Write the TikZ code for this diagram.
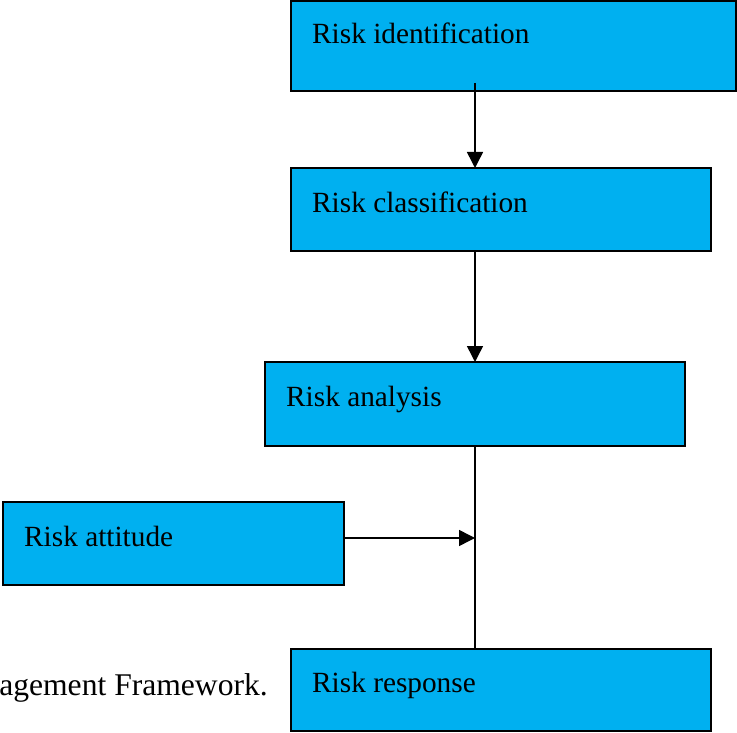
\documentclass[tikz,border=0pt]{standalone}
\usepackage{fontspec}
\setmainfont{Liberation Serif}
\usetikzlibrary{arrows.meta,calc}
\definecolor{boxblue}{HTML}{00B0F0}
\begin{document}
\begin{tikzpicture}[x=1pt,y=1pt,
  stagebox/.style={draw=black,line width=1.5pt,fill=boxblue},
  stagetext/.style={anchor=base west,inner sep=0pt,font=\fontsize{29.3}{35}\selectfont},
  flow/.style={line width=1.5pt,-{Triangle[width=16pt,length=16pt]}},
  plain/.style={line width=1.5pt}]
\useasboundingbox (0,0) rectangle (737,-733);
% stage boxes (corners in page coordinates)
\path[stagebox] (291,-1) rectangle (736,-91);
\path[stagebox] (291,-168) rectangle (711,-251);
\path[stagebox] (265,-362) rectangle (685,-446);
\path[stagebox] (3,-502) rectangle (344,-585);
\path[stagebox] (291,-649) rectangle (711,-731);
% anchors on the box edges
\coordinate (id) at (475,-83);
\coordinate (cltop) at (475,-168);
\coordinate (clbot) at (475,-251);
\coordinate (antop) at (475,-362);
\coordinate (anbot) at (475,-446);
\coordinate (retop) at (475,-649);
\coordinate (ateast) at (344,-538);
\coordinate (join) at (anbot |- ateast);
% labels
\node[stagetext] (tid) at (312,-44) {Risk identification};
\node[stagetext] (tcl) at (312,-212) {Risk classification};
\node[stagetext] (tan) at (286,-406) {Risk analysis};
\node[stagetext] (tat) at (24,-546) {Risk attitude};
\node[stagetext] (tre) at (312,-692) {Risk response};
\node[anchor=base east,inner sep=0pt,font=\fontsize{31.6}{38}\selectfont] (cap) at (268,-695) {agement Framework.};
% connectors
\draw[flow] (id) -- (cltop);
\draw[flow] (clbot) -- (antop);
\draw[plain] (anbot) -- (retop);
\draw[flow] (ateast) -- (join);
\end{tikzpicture}
\end{document}
